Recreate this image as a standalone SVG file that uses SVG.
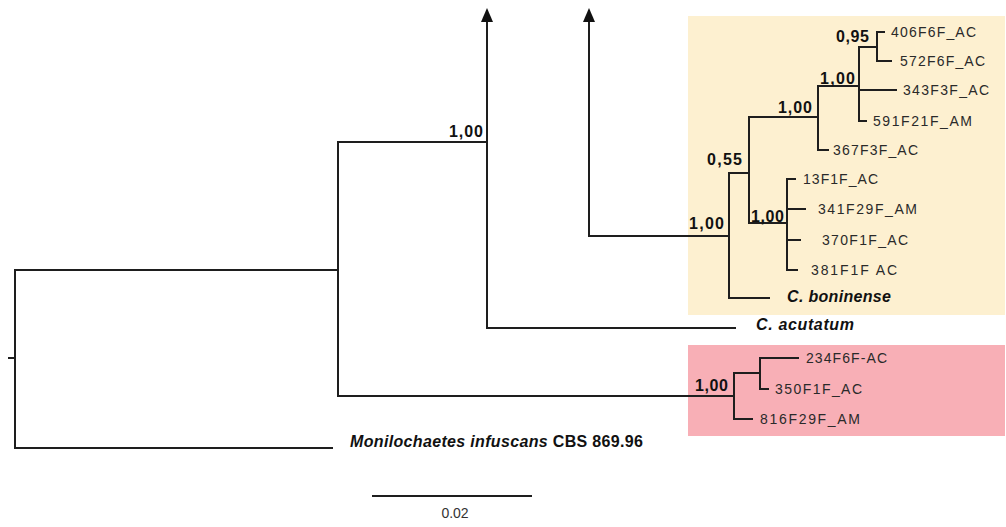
<svg xmlns="http://www.w3.org/2000/svg" width="1006" height="527" viewBox="0 0 1006 527">
  <style>
    .br { fill: none; stroke: #1e1e1e; stroke-width: 2; stroke-linecap: square; }
    .tip { font-family: "Liberation Sans", Arial, sans-serif; font-size: 14px; fill: #2a2a2a; }
    .sup { font-family: "Liberation Sans", Arial, sans-serif; font-size: 16px; font-weight: bold; fill: #111; }
    .sp { font-family: "Liberation Sans", Arial, sans-serif; font-size: 16px; font-weight: bold; font-style: italic; fill: #111; }
    .spn { font-style: normal; }
    .scale { font-family: "Liberation Sans", Arial, sans-serif; font-size: 14px; fill: #333; }
  </style>
  <defs>
    <!-- arrowhead drawn along +x, base on the line end -->
    <marker id="arrow" viewBox="0 0 14 12" refX="0" refY="6" markerWidth="14" markerHeight="12" markerUnits="userSpaceOnUse" orient="auto">
      <path d="M0 0 L14 6 L0 12 Z" fill="#111"/>
    </marker>
  </defs>

  <rect width="1006" height="527" fill="#ffffff"/>

  <!-- clade highlight boxes -->
  <rect id="clade-boninense" x="688" y="16" width="317" height="299" fill="#FDF0D0"/>
  <rect id="clade-outgroup" x="688" y="345" width="317" height="91" fill="#F8AFB6"/>

  <!-- branches -->
  <g id="connectors">
    <path class="br" d="M9 358 H15"/>
    <path class="br" d="M15 270 V448"/>
    <path class="br" d="M15 270 H338"/>
    <path class="br" d="M15 448 H332"/>
    <path class="br" d="M338 142 V396"/>
    <path class="br" d="M338 142 H487"/>
    <path class="br" d="M338 396 H734"/>
    <path class="br" d="M487 328 V22" marker-end="url(#arrow)"/>
    <path class="br" d="M487 328 H735"/>
    <path class="br" d="M589 236 V22" marker-end="url(#arrow)"/>
    <path class="br" d="M589 236 H729"/>
    <path class="br" d="M729 173 V298"/>
    <path class="br" d="M729 173 H749"/>
    <path class="br" d="M729 298 H769"/>
    <path class="br" d="M749 117 V223"/>
    <path class="br" d="M749 117 H818"/>
    <path class="br" d="M749 223 H787"/>
    <path class="br" d="M818 86 V150"/>
    <path class="br" d="M818 86 H859"/>
    <path class="br" d="M818 150 H828"/>
    <path class="br" d="M859 47 V121"/>
    <path class="br" d="M859 47 H877"/>
    <path class="br" d="M859 90 H896"/>
    <path class="br" d="M859 121 H866"/>
    <path class="br" d="M877 32 V61"/>
    <path class="br" d="M877 32 H884"/>
    <path class="br" d="M877 61 H891"/>
    <path class="br" d="M787 179 V270"/>
    <path class="br" d="M787 179 H795"/>
    <path class="br" d="M787 209 H805"/>
    <path class="br" d="M787 240 H800"/>
    <path class="br" d="M787 270 H797"/>
    <path class="br" d="M734 373 V419"/>
    <path class="br" d="M734 373 H760"/>
    <path class="br" d="M734 419 H752"/>
    <path class="br" d="M760 358 V389"/>
    <path class="br" d="M760 358 H798"/>
    <path class="br" d="M760 389 H768"/>
  </g>

  <!-- internal nodes with support values -->
  <g id="node-487"><text class="sup" x="449" y="137" textLength="34">1,00</text></g>
  <g id="node-729"><text class="sup" x="689" y="229" textLength="35">1,00</text></g>
  <g id="node-749"><text class="sup" x="707" y="165" textLength="35">0,55</text></g>
  <g id="node-818"><text class="sup" x="778" y="113" textLength="34">1,00</text></g>
  <g id="node-859"><text class="sup" x="820" y="84" textLength="35">1,00</text></g>
  <g id="node-877"><text class="sup" x="836" y="42" textLength="33">0,95</text></g>
  <g id="node-787"><text class="sup" x="751" y="222" textLength="33">1,00</text></g>
  <g id="node-734"><text class="sup" x="695" y="391" textLength="33">1,00</text></g>

  <!-- tips -->
  <g id="tip-406F6F_AC"><text class="tip" x="891" y="37" textLength="85">406F6F_AC</text></g>
  <g id="tip-572F6F_AC"><text class="tip" x="900" y="66" textLength="85">572F6F_AC</text></g>
  <g id="tip-343F3F_AC"><text class="tip" x="903" y="95" textLength="86">343F3F_AC</text></g>
  <g id="tip-591F21F_AM"><text class="tip" x="873" y="126" textLength="99">591F21F_AM</text></g>
  <g id="tip-367F3F_AC"><text class="tip" x="833" y="155" textLength="85">367F3F_AC</text></g>
  <g id="tip-13F1F_AC"><text class="tip" x="803" y="184" textLength="75">13F1F_AC</text></g>
  <g id="tip-341F29F_AM"><text class="tip" x="818" y="214" textLength="99">341F29F_AM</text></g>
  <g id="tip-370F1F_AC"><text class="tip" x="822" y="245" textLength="86">370F1F_AC</text></g>
  <g id="tip-381F1F_AC"><text class="tip" x="811" y="275" textLength="86">381F1F  AC</text></g>
  <g id="tip-boninense"><text class="sp" x="787" y="302" textLength="104">C. boninense</text></g>
  <g id="tip-acutatum"><text class="sp" x="756" y="330" textLength="98">C. acutatum</text></g>
  <g id="tip-234F6F-AC"><text class="tip" x="806" y="363" textLength="81">234F6F-AC</text></g>
  <g id="tip-350F1F_AC"><text class="tip" x="775" y="394" textLength="87">350F1F_AC</text></g>
  <g id="tip-816F29F_AM"><text class="tip" x="760" y="424" textLength="100">816F29F_AM</text></g>
  <g id="tip-monilochaetes"><text class="sp" x="350" y="447" textLength="293">Monilochaetes infuscans <tspan class="spn">CBS 869.96</tspan></text></g>

  <!-- scale bar -->
  <g id="scale-bar">
    <path class="br" d="M373 496 H531" stroke-width="1.5"/>
    <text class="scale" x="455" y="518" text-anchor="middle">0.02</text>
  </g>
</svg>
